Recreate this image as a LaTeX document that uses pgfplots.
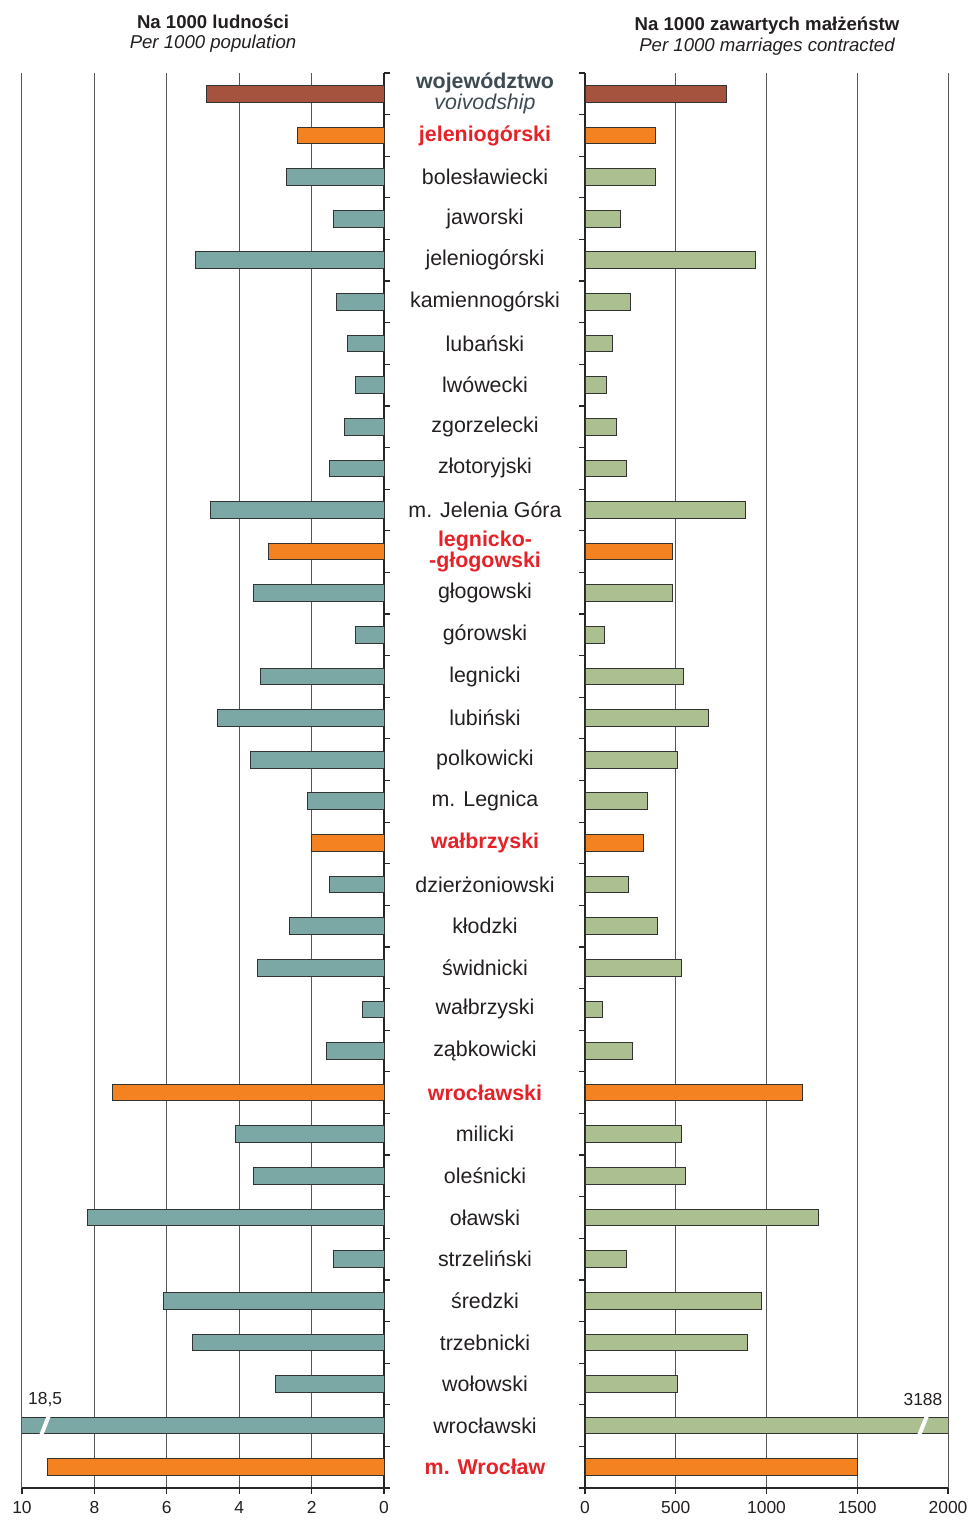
\documentclass[border=0pt]{standalone}
\usepackage{fontspec}
\setmainfont{Liberation Sans}
\usepackage{pgfplots}
\pgfplotsset{compat=1.18}
\definecolor{brownbar}{HTML}{A5533F}
\definecolor{orangebar}{HTML}{F58220}
\definecolor{tealbar}{HTML}{7BA7A4}
\definecolor{greenbar}{HTML}{ABBF91}
\definecolor{redtxt}{HTML}{E52228}
\definecolor{slate}{HTML}{3E4B53}
\definecolor{txt}{HTML}{231F20}
\definecolor{gridc}{HTML}{555555}
\newcommand{\lab}{\fontsize{10.7}{10.5}\selectfont}
\newcommand{\rl}[1]{\textcolor{redtxt}{\bfseries #1}}
\pgfplotsset{
  common/.style={
    scale only axis, height=707.5pt,
    ymin=-0.5, ymax=33.5, y dir=reverse,
    axis x line*=bottom,
    xmajorgrids,
    grid style={gridc, line width=0.5pt},
    axis line style={black!85, line width=0.6pt},
    ytick={0,1,...,33},
    minor ytick={-0.5,0.5,...,33.5},
    tick align=outside, major tick length=3pt, minor tick length=3pt,
    tick style={black!85, line width=0.6pt},
    major y tick style={draw=none},
    /pgf/number format/assume math mode=true,
    /pgf/number format/1000 sep={},
    xticklabel style={font=\fontsize{8.7}{10}\selectfont, text=txt},
    xbar, bar width=8.35pt, bar shift=0pt,
    every axis plot/.append style={draw=black!80, line width=0.5pt},
  }
}
\begin{document}
\begin{tikzpicture}
\useasboundingbox (0,0) rectangle (486pt,760pt);
% titles
\node[font=\fontsize{9.3}{11}\selectfont\bfseries, text=txt] at (106.5pt,749pt) {Na 1000 ludności};
\node[font=\fontsize{9.3}{11}\selectfont\itshape, text=txt] at (106.5pt,738pt) {Per 1000 population};
\node[font=\fontsize{9.3}{11}\selectfont\bfseries, text=txt] at (383.5pt,747pt) {Na 1000 zawartych małżeństw};
\node[font=\fontsize{9.3}{11}\selectfont\itshape, text=txt] at (383.5pt,736.5pt) {Per 1000 marriages contracted};

% left axis
\begin{axis}[common,
  at={(11pt,16pt)}, anchor=south west, width=181pt,
  xmin=0, xmax=10, x dir=reverse,
  axis y line*=right,
  xtick={0,2,...,10},
  yticklabels={
    {\textcolor{slate}{\bfseries województwo}\\\textcolor{slate}{\itshape voivodship}},
    \rl{jeleniogórski},bolesławiecki,jaworski,jeleniogórski,kamiennogórski,lubański,lwówecki,zgorzelecki,złotoryjski,m. Jelenia Góra,
    {\rl{legnicko-}\\\rl{-głogowski}},głogowski,górowski,legnicki,lubiński,polkowicki,m. Legnica,
    \rl{wałbrzyski},dzierżoniowski,kłodzki,świdnicki,wałbrzyski,ząbkowicki,
    \rl{wrocławski},milicki,oleśnicki,oławski,strzeliński,średzki,trzebnicki,wołowski,wrocławski,\rl{m. Wrocław}},
  yticklabel style={anchor=center, xshift=47.5pt, align=center, font=\lab, text=txt},
]
\addplot[fill=brownbar] coordinates {(4.9,0)};
\addplot[fill=orangebar] coordinates {(2.4,1) (3.2,11) (2.0,18) (7.5,24) (9.3,33)};
% wroclawski powiat: 18.5, drawn cut at the axis limit 10
\addplot[fill=tealbar] coordinates {
(2.7,2) (1.4,3) (5.2,4) (1.3,5) (1.0,6) (0.8,7) (1.1,8) (1.5,9) (4.8,10)
(3.6,12) (0.8,13) (3.4,14) (4.6,15) (3.7,16) (2.1,17)
(1.5,19) (2.6,20) (3.5,21) (0.6,22) (1.6,23)
(4.1,25) (3.6,26) (8.2,27) (1.4,28) (6.1,29) (5.3,30) (3.0,31) (10,32)};
\draw[white, line width=2pt] (axis cs:9.23,31.70) -- (axis cs:9.50,32.30);
\node[font=\fontsize{8.7}{10}\selectfont, text=txt] at (axis cs:9.36,31.38) {18,5};
\end{axis}

% right axis
\begin{axis}[common,
  at={(292.5pt,16pt)}, anchor=south west, width=181.5pt,
  xmin=0, xmax=2000,
  axis y line*=left,
  xtick={0,500,...,2000},
  yticklabels={},
]
\addplot[fill=brownbar] coordinates {(782,0)};
\addplot[fill=orangebar] coordinates {(386,1) (482,11) (320,18) (1201,24) (1504,33)};
% wroclawski powiat: 3188, drawn cut at the axis limit 2000
\addplot[fill=greenbar] coordinates {
(386,2) (193,3) (942,4) (253,5) (154,6) (121,7) (176,8) (226,9) (882,10)
(480,12) (110,13) (545,14) (683,15) (512,16) (347,17)
(242,19) (402,20) (534,21) (99,22) (259,23)
(534,25) (556,26) (1289,27) (226,28) (970,29) (898,30) (507,31) (2000,32)};
\draw[white, line width=2pt] (axis cs:1890,31.70) -- (axis cs:1835,32.30);
\node[font=\fontsize{8.7}{10}\selectfont, text=txt] at (axis cs:1862,31.38) {3188};
\end{axis}
\end{tikzpicture}
\end{document}
